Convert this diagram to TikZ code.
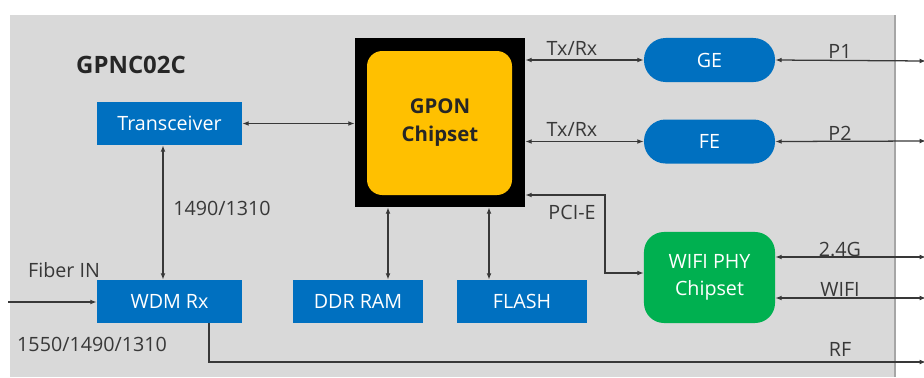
\documentclass[tikz,border=0pt]{standalone}
\usepackage{fontspec}
\setmainfont{Open Sans}
\usetikzlibrary{arrows.meta}

\definecolor{panelgray}{HTML}{D9D9D9}
\definecolor{edgegray}{HTML}{A6A6A6}
\definecolor{boxblue}{HTML}{0070C0}
\definecolor{chipyellow}{HTML}{FFC000}
\definecolor{phygreen}{HTML}{00B050}
\definecolor{textgray}{HTML}{383838}

\tikzset{
  bluebox/.style={fill=boxblue,text=white,minimum width=3.625cm,minimum height=1.075cm,inner sep=0pt,font=\fontsize{14}{16}\selectfont},
  pillbox/.style={bluebox,rounded corners=0.54cm,minimum width=3.275cm,minimum height=1.1cm},
  lbl/.style={text=textgray,inner sep=0pt,font=\fontsize{14}{16}\selectfont},
  link/.style={textgray,line width=0.9pt,{Latex[length=1.6mm,width=1.2mm]}-{Latex[length=1.6mm,width=1.2mm]}},
  onelink/.style={textgray,line width=0.9pt,-{Latex[length=1.6mm,width=1.2mm]}}
}

\begin{document}
\begin{tikzpicture}[x=0.025cm,y=-0.025cm]
    \useasboundingbox (0,0) rectangle (924,377);

    % Fondo del módulo
    \fill[panelgray] (10,15) rectangle (895,377);
    \draw[edgegray,line width=2pt] (895,15) -- (895,377);

    \node[lbl,font=\bfseries\fontsize{17}{20}\selectfont,text=black!85] (title) at (131,65) {GPNC02C};

    % Chip GPON
    \fill[black] (355,38) rectangle (525,207);
    \fill[chipyellow,rounded corners=0.38cm] (367,51) rectangle (512,195);
    \node[inner sep=0pt,minimum width=4.25cm,minimum height=4.225cm,align=center,
          font=\bfseries\fontsize{14.5}{20}\selectfont,text=black!85] (gpon) at (440,122.5) {GPON\\Chipset};

    % Bloques
    \node[bluebox] (tcvr) at (169.5,123.5) {Transceiver};
    \node[bluebox] (wdm) at (169.5,301.5) {WDM Rx};
    \node[bluebox,minimum width=3.25cm] (ddr) at (358,301.5) {DDR RAM};
    \node[bluebox,minimum width=3.25cm] (flash) at (522,301.5) {FLASH};
    \node[pillbox] (ge) at (709.5,60) {GE};
    \node[pillbox] (fe) at (709.5,141.5) {FE};
    \node[bluebox,fill=phygreen,rounded corners=0.5cm,minimum width=3.275cm,minimum height=2.275cm,
          align=center,font=\fontsize{14}{19}\selectfont] (wifi) at (709.5,277.5) {WIFI PHY\\Chipset};

    % Extremos exteriores
    \coordinate (p1) at (926,61);
    \coordinate (p2) at (926,141);
    \coordinate (g24) at (926,257);
    \coordinate (wf) at (926,298);
    \coordinate (rf) at (926,362);
    \coordinate (fib) at (8,302);

    % Conexiones
    \draw[link] (tcvr.east) -- (gpon.west |- tcvr.east);
    \draw[link] (tcvr.south -| 163,0) -- (wdm.north -| 163,0);
    \draw[link] (gpon.east |- ge.west) -- (ge.west);
    \draw[link] (gpon.east |- fe.west) -- (fe.west);
    \draw[link] (ge.east) -- (p1);
    \draw[link] (fe.east) -- (p2);
    \draw[link] (gpon.south -| 388,0) -- (ddr.north -| 388,0);
    \draw[link] (gpon.south -| 489,0) -- (flash.north -| 489,0);
    \draw[link] (gpon.east |- 0,195) -- (605,195) -- (605,273) -- (wifi.west |- 0,273);
    \draw[link] (wifi.east |- g24) -- (g24);
    \draw[link] (wifi.east |- wf) -- (wf);
    \draw[onelink] (fib) -- (wdm.west |- fib);
    \draw[onelink] (wdm.south -| 209,0) -- (209,362) -- (rf);

    % Etiquetas
    \node[lbl] (txrx1) at (572,48) {Tx/Rx};
    \node[lbl] (txrx2) at (572,129) {Tx/Rx};
    \node[lbl] (lp1) at (840,51) {P1};
    \node[lbl] (lp2) at (840,133) {P2};
    \node[lbl] (lpci) at (572,212) {PCI-E};
    \node[lbl] (l24) at (840,250) {2.4G};
    \node[lbl] (lwf) at (840,289) {WIFI};
    \node[lbl] (lrf) at (840,349) {RF};
    \node[lbl] (lwave) at (222,208) {1490/1310};
    \node[lbl] (lfib) at (64,270) {Fiber IN};
    \node[lbl] (lwaves) at (92,344) {1550/1490/1310};
\end{tikzpicture}
\end{document}
